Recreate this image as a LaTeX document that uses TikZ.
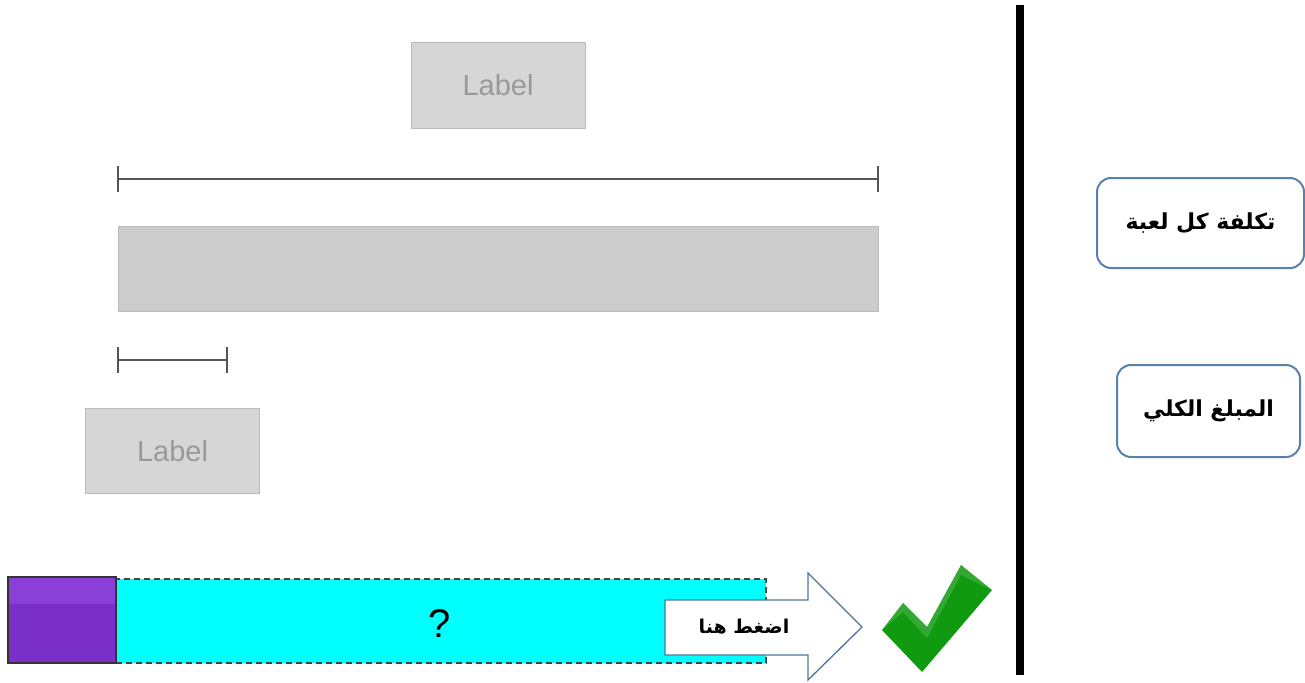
\documentclass[tikz,border=0pt]{standalone}
\usepackage{fontspec}
\setmainfont{Liberation Sans}
\newfontfamily\arabicfont[Script=Arabic]{DejaVu Sans}
\TeXXeTstate=1
\usetikzlibrary{calc}
\definecolor{lblfill}{HTML}{D6D6D6}
\definecolor{lblline}{HTML}{BBBBBB}
\definecolor{lbltext}{HTML}{999999}
\definecolor{barfill}{HTML}{CCCCCC}
\definecolor{bracketc}{HTML}{555555}
\definecolor{purpA}{HTML}{7A30C8}
\definecolor{purpB}{HTML}{8A40D8}
\definecolor{cyanc}{HTML}{00FFFF}
\definecolor{dashc}{HTML}{444444}
\definecolor{steel}{HTML}{4F74A0}
\definecolor{boxline}{HTML}{5A80AC}
\definecolor{checkg}{HTML}{109A10}
\tikzset{
  lblbox/.style={draw=lblline, fill=lblfill, line width=1pt, minimum width=174pt, minimum height=85pt, inner sep=0pt, text=lbltext, font=\fontsize{29}{32}\selectfont},
  bracketline/.style={draw=bracketc, line width=1.2pt},
  rbox/.style={draw=boxline, line width=2pt, rounded corners=14pt, fill=white, inner sep=0pt, font=\arabicfont\bfseries\fontsize{22}{26}\selectfont},
}
\begin{document}
\begin{tikzpicture}[x=1pt,y=-1pt]
\useasboundingbox (0,0) rectangle (1305,682);
% top label
\node[lblbox] (toplabel) at (498,85.5) {Label};
% long bracket
\coordinate (la) at (118,179);
\coordinate (lb) at (878,179);
\draw[bracketline] (la) -- (lb);
\draw[bracketline] ($(la)+(0,-13)$) -- ($(la)+(0,13)$);
\draw[bracketline] ($(lb)+(0,-13)$) -- ($(lb)+(0,13)$);
% gray bar
\node[draw=lblline, fill=barfill, line width=1pt, minimum width=760pt, minimum height=85pt, inner sep=0pt] (bar) at (498,268.5) {};
% short bracket
\coordinate (sa) at (118,360);
\coordinate (sb) at (227,360);
\draw[bracketline] (sa) -- (sb);
\draw[bracketline] ($(sa)+(0,-13)$) -- ($(sa)+(0,13)$);
\draw[bracketline] ($(sb)+(0,-13)$) -- ($(sb)+(0,13)$);
% bottom label
\node[lblbox] (botlabel) at (172.5,451) {Label};
% cyan bar
\node[fill=cyanc, draw=dashc, dash pattern=on 6pt off 4pt, line width=1.2pt, minimum width=650pt, minimum height=84pt, inner sep=0pt] (cyanbar) at (441,621) {};
\node[font=\fontsize{40}{44}\selectfont] (q) at (440,624) {?};
% purple block
\fill[purpA] (8,577) rectangle (116,663);
\fill[purpB] (8,577) rectangle (116,604);
\node[draw=black!80, line width=1.2pt, minimum width=108pt, minimum height=86pt, inner sep=0pt] (purple) at (62,620) {};
% block arrow
\draw[steel, fill=white, line width=1.3pt, line join=miter] (665,600) -- (808,600) -- (808,573) -- (862,627) -- (808,680) -- (808,655) -- (665,655) -- cycle;
\node[font=\arabicfont\bfseries\fontsize{19}{22}\selectfont] (presshere) at (744,627) {\beginR اضغط هنا\endR};
% check mark
\fill[checkg] (882,630) -- (903,603) -- (927,627) -- (961,565) -- (992,590) -- (922,672) -- cycle;
\fill[white,opacity=0.15] (882,630) -- (903,603) -- (927,627) -- (961,565) -- (992,590) -- (961,575) -- (927,638) -- (903,612) -- cycle;
% vertical divider
\coordinate (vtop) at (1020,5);
\coordinate (vbot) at (1020,675);
\draw[line width=8pt] (vtop) -- (vbot);
% right boxes
\node[rbox, minimum width=207pt, minimum height=90pt] (cost) at (1200.5,223) {\beginR تكلفة كل لعبة\endR};
\node[rbox, minimum width=183pt, minimum height=92pt] (total) at (1208.5,411) {\beginR المبلغ الكلي\endR};
\end{tikzpicture}
\end{document}
